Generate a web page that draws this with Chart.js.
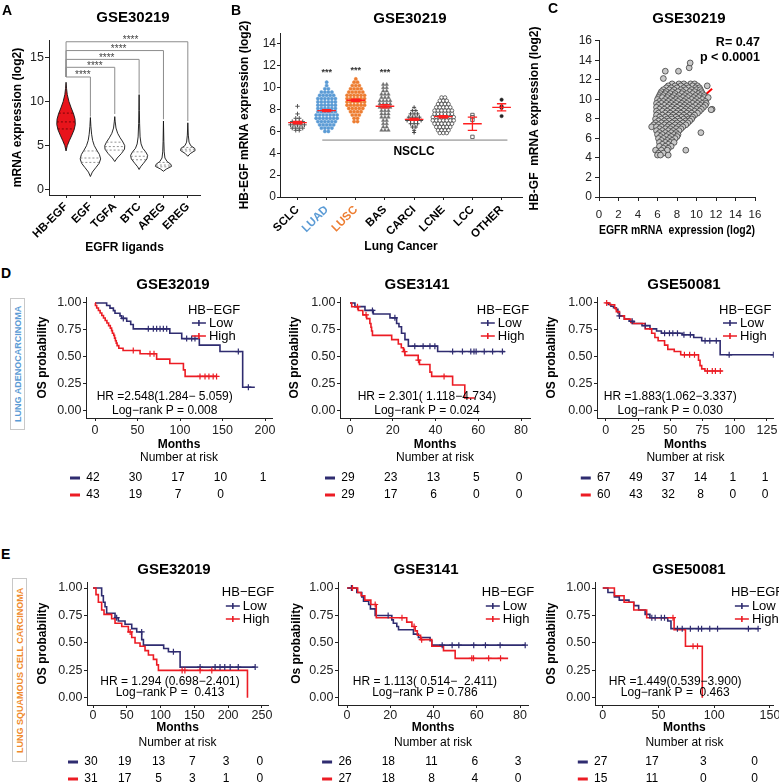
<!DOCTYPE html>
<html>
<head>
<meta charset="utf-8">
<title>HB-EGF expression and survival</title>
<script src="https://cdn.jsdelivr.net/npm/chart.js@4.4.1/dist/chart.umd.min.js"></script>
<style>
  body { margin: 0; background: #fff; font-family: 'Liberation Sans', Arial, sans-serif; }
  #page { position: relative; width: 779px; height: 784px; overflow: hidden; background: #fff; }
  canvas { position: absolute; }
  .lbl { position: absolute; font-weight: bold; font-size: 14px; line-height: 14px; }
  .ttl { position: absolute; font-weight: bold; font-size: 15px; transform: translate(-50%, -50%); white-space: nowrap; }
  .side { position: absolute; box-sizing: border-box; border: 1px solid #c8c8c8; display: flex; align-items: center;
          justify-content: center; writing-mode: vertical-rl; transform: rotate(180deg); font-size: 9px; font-weight: bold; white-space: nowrap; }
  .stat { position: absolute; right: 19px; font-weight: bold; font-size: 12.5px; text-align: right; line-height: 15px; }
</style>
</head>
<body>
<div id="page">
  <canvas id="cA" width="232" height="262" style="left:0;top:0"></canvas>
  <canvas id="cB" width="295" height="262" style="left:232px;top:0"></canvas>
  <canvas id="cC" width="252" height="245" style="left:527px;top:0"></canvas>
  <canvas id="cD1" width="250" height="243" style="left:30px;top:262px"></canvas>
  <canvas id="cD2" width="255" height="243" style="left:285px;top:262px"></canvas>
  <canvas id="cD3" width="239" height="243" style="left:540px;top:262px"></canvas>
  <canvas id="cE1" width="250" height="239" style="left:30px;top:545px"></canvas>
  <canvas id="cE2" width="255" height="239" style="left:285px;top:545px"></canvas>
  <canvas id="cE3" width="239" height="239" style="left:540px;top:545px"></canvas>

  <div class="lbl" style="left:2px;top:3px">A</div>
  <div class="lbl" style="left:231px;top:3px">B</div>
  <div class="lbl" style="left:548px;top:1px">C</div>
  <div class="lbl" style="left:1px;top:266px">D</div>
  <div class="lbl" style="left:1px;top:547px">E</div>

  <div class="ttl" style="left:133px;top:16px">GSE30219</div>
  <div class="ttl" style="left:410px;top:17px">GSE30219</div>
  <div class="ttl" style="left:689px;top:17px">GSE30219</div>
  <div class="ttl" style="left:173px;top:283px">GSE32019</div>
  <div class="ttl" style="left:417px;top:283px">GSE3141</div>
  <div class="ttl" style="left:684px;top:283px">GSE50081</div>
  <div class="ttl" style="left:174px;top:568px">GSE32019</div>
  <div class="ttl" style="left:426px;top:568px">GSE3141</div>
  <div class="ttl" style="left:689px;top:568px">GSE50081</div>

  <div class="stat" style="top:35px">R= 0.47<br>p &lt; 0.0001</div>

  <div class="side" style="left:10px;top:298px;width:15px;height:132px;color:#5b9bd5">LUNG ADENOCARCINOMA</div>
  <div class="side" style="left:12px;top:578px;width:15px;height:184px;color:#f08a2c">LUNG SQUAMOUS CELL CARCINOMA</div>
</div>

<script>
// ---------- Panel A: EGFR ligand expression (violins) ----------
const ligands = ['HB-EGF', 'EGF', 'TGFA', 'BTC', 'AREG', 'EREG'];
// [log2 value, half width in category units]
const violinHBEGF = [[4.4,0],[5.0,0.05],[5.6,0.14],[6.2,0.24],[6.8,0.33],[7.4,0.38],[8.0,0.37],[8.6,0.31],[9.3,0.21],[10.0,0.12],[10.8,0.05],[11.5,0.02],[12.2,0]];
const violinEGF   = [[1.5,0],[2.0,0.08],[2.5,0.22],[3.0,0.36],[3.5,0.42],[4.0,0.37],[4.5,0.26],[5.0,0.16],[5.6,0.09],[6.3,0.05],[7.2,0.02],[8.2,0]];
const violinTGFA  = [[3.2,0],[3.6,0.1],[4.1,0.27],[4.6,0.4],[5.0,0.41],[5.4,0.34],[5.9,0.22],[6.4,0.12],[7.0,0.05],[7.7,0.02],[8.3,0]];
const violinBTC   = [[2.3,0],[2.6,0.06],[3.0,0.18],[3.5,0.32],[3.9,0.35],[4.3,0.27],[4.7,0.15],[5.2,0.08],[6.0,0.04],[7.5,0.02],[9.0,0.01],[10.8,0]];
const violinAREG  = [[2.1,0],[2.35,0.12],[2.65,0.33],[2.9,0.3],[3.2,0.15],[3.6,0.06],[4.3,0.03],[5.5,0.015],[7.8,0]];
const violinEREG  = [[3.8,0],[4.1,0.1],[4.45,0.3],[4.7,0.28],[5.0,0.12],[5.4,0.05],[6.2,0.02],[7.6,0]];
const violinQuartiles = [[6.9,7.7,8.7],[3.1,3.6,4.4],[4.5,4.9,5.4],[3.4,3.8,4.3],[2.6,2.8,3.1],[4.4,4.6,4.8]];
const sigTops = [12.8, 13.9, 14.8, 15.8, 16.8];     // bracket heights, HB-EGF vs EGF..EREG
const sigLegEnds = [8.3, 8.6, 10.9, 8.0, 7.8];
const sigLabels = ['****', '****', '****', '****', '****'];

// ---------- Panel B: HB-EGF by lung cancer type ----------
const cancerTypes = ['SCLC', 'LUAD', 'LUSC', 'BAS', 'CARCI', 'LCNE', 'LCC', 'OTHER'];
// [log2 value, number of samples at that level]
const sclcBins  = [[8.3,1],[7.6,1],[7.2,2],[6.9,4],[6.6,5],[6.3,4],[6.1,2]];
const luadBins  = [[10.5,1],[10.2,1],[9.9,2],[9.6,4],[9.3,5],[9.0,6],[8.7,6],[8.4,6],[8.1,6],[7.8,6],[7.5,7],[7.2,7],[6.9,6],[6.6,5],[6.3,4],[6.0,2]];
const luscBins  = [[10.8,1],[10.5,2],[10.2,3],[9.9,4],[9.6,5],[9.3,6],[9.0,6],[8.7,6],[8.4,6],[8.1,5],[7.8,4],[7.5,3],[7.2,2],[6.9,2]];
const basBins   = [[10.3,2],[10.0,2],[9.7,2],[9.4,3],[9.1,3],[8.8,4],[8.5,4],[8.2,4],[7.9,3],[7.6,3],[7.3,3],[7.0,2],[6.7,2],[6.4,2],[6.1,3]];
const carciBins = [[8.2,1],[7.9,2],[7.6,3],[7.3,4],[7.0,5],[6.7,3],[6.4,2],[6.1,1],[5.9,1]];
const lcneBins  = [[9.1,2],[8.8,3],[8.5,4],[8.2,5],[7.9,6],[7.6,6],[7.3,7],[7.0,7],[6.7,6],[6.4,5],[6.1,4],[5.85,3]];
const lccBins   = [[7.5,1],[7.3,1],[7.05,1],[5.5,1]];
const otherBins = [[8.9,1],[8.3,1],[8.15,1],[7.4,1]];
const typeMeans = [6.8, 7.9, 8.85, 8.3, 7.1, 7.35, 6.7, 8.2];
const typeSEM   = [0.12, 0.1, 0.1, 0.15, 0.1, 0.1, 0.6, 0.33];
const sigTypes  = [1, 2, 3];
const sigTypeLevels = [11.45, 11.6, 11.45];
const nsclcSpan = [0.85, 7.2];
const nsclcLevel = 5.2;

// ---------- Panel C: HB-EGF vs EGFR ----------
// [HB-EGF value, EGFR values on that row]
const egfrRows = [
  [11.6, [7.5, 8.2, 8.7, 9.4, 9.8]],
  [11.4, [7.1, 7.8, 8.4, 9.0, 9.6, 10.1, 11.1]],
  [11.2, [6.9, 7.4, 8.0, 8.7, 9.2, 9.9, 10.3]],
  [11.0, [6.6, 7.2, 7.7, 8.4, 8.9, 9.5, 10.0, 10.4]],
  [10.8, [6.4, 6.9, 7.5, 8.1, 8.6, 9.3, 9.8, 10.5]],
  [10.6, [6.3, 6.8, 7.3, 7.8, 8.5, 9.0, 9.6, 10.2, 10.6]],
  [10.4, [6.2, 6.6, 7.1, 7.7, 8.2, 8.8, 9.3, 9.9, 10.4, 10.8]],
  [10.2, [6.1, 6.5, 7.0, 7.5, 8.0, 8.6, 9.1, 9.7, 10.2, 10.8, 11.2]],
  [10.0, [6.0, 6.8, 7.3, 7.9, 8.3, 8.9, 9.5, 10.0, 10.6]],
  [9.8, [6.2, 6.6, 7.1, 7.6, 8.1, 8.7, 9.2, 9.8, 10.3, 10.9]],
  [9.6, [5.9, 6.4, 6.9, 7.4, 7.9, 8.5, 9.0, 9.6, 10.1, 10.6, 11.0]],
  [9.4, [6.1, 6.7, 7.2, 7.7, 8.3, 8.8, 9.3, 9.9, 10.4, 10.9]],
  [9.2, [5.9, 6.4, 7.0, 7.5, 8.0, 8.6, 9.1, 9.6, 10.2, 10.7]],
  [9.0, [6.2, 6.7, 7.3, 7.8, 8.4, 8.9, 9.4, 10.0, 10.5, 11.6]],
  [8.8, [5.9, 6.5, 7.0, 7.6, 8.1, 8.7, 9.2, 9.8, 10.3]],
  [8.6, [6.1, 6.8, 7.3, 7.9, 8.4, 9.0, 9.5, 10.1]],
  [8.4, [5.9, 6.5, 7.1, 7.6, 8.2, 8.7, 9.3, 9.8]],
  [8.2, [6.2, 6.8, 7.4, 7.9, 8.5, 9.0, 9.6]],
  [8.0, [5.8, 6.4, 7.0, 7.5, 8.1, 8.7, 9.2, 9.5]],
  [7.8, [6.1, 6.7, 7.2, 7.8, 8.3, 8.9, 9.3]],
  [7.6, [5.8, 6.4, 6.9, 7.5, 8.0, 8.6, 9.1]],
  [7.4, [5.6, 6.1, 6.7, 7.2, 7.8, 8.3, 8.9]],
  [7.2, [5.4, 5.9, 6.4, 7.0, 7.5, 8.1, 8.6]],
  [7.0, [6.2, 6.8, 7.3, 7.9, 8.4]],
  [6.8, [5.9, 6.5, 7.1, 7.6, 8.2]],
  [6.6, [6.2, 6.8, 7.4, 7.9, 10.45]],
  [6.4, [6.0, 6.5, 7.1, 7.7, 8.1]],
  [6.2, [6.3, 6.9, 7.4, 8.0]],
  [6.0, [6.1, 6.6, 7.2, 7.8]],
  [5.8, [6.4, 7.0, 7.5]],
  [5.6, [6.2, 6.8, 7.3, 7.7]],
  [5.4, [6.5, 7.1]],
  [5.2, [6.2, 6.8, 7.4]],
  [5.0, [6.6, 7.1]],
  [4.8, [5.8, 6.4, 7.0, 8.9]],
  [4.5, [6.1, 6.6]],
  [4.3, [6.0, 6.3, 7.1]]
];
const egfrOutliers = [[6.6, 12.15], [6.8, 12.9], [8.15, 12.9], [9.25, 13.25], [9.35, 13.75], [11.5, 8.95]];
const egfrFit = [[6.0, 6.1], [11.6, 11.1]];

// ---------- Panels D/E: Kaplan-Meier (months, survival) ----------
const d1LowT = [0, 13.7, 17.6, 21.6, 23.5, 29.4, 31.4, 37.3, 42, 45, 88, 102, 122.7, 147, 173.7, 188];
const d1LowS = [1, 0.976, 0.952, 0.929, 0.905, 0.88, 0.857, 0.83, 0.8, 0.76, 0.72, 0.67, 0.61, 0.55, 0.22, 0.22];
const d1LowC = [33.3, 62.7, 68.6, 72.5, 76.5, 80.4, 84.3, 107.8, 113.7, 117.6, 168.6, 180.4];
const d1HighT = [0, 0.5, 2, 4, 6, 8, 10, 12, 14, 16, 18, 19.5, 20.5, 22, 23, 24, 25, 26, 28, 33, 53, 72.5, 88, 104, 106, 143];
const d1HighS = [1, 0.977, 0.953, 0.93, 0.907, 0.884, 0.86, 0.837, 0.814, 0.79, 0.767, 0.744, 0.72, 0.7, 0.674, 0.65, 0.628, 0.605, 0.58, 0.56, 0.53, 0.48, 0.44, 0.38, 0.32, 0.32];
const d1HighC = [45, 64.7, 69.4, 123.5, 129.4, 134, 139, 143];
const d1Ticks = [0, 50, 100, 150, 200];
const d1RiskLow = [42, 30, 17, 10, 1];
const d1RiskHigh = [43, 19, 7, 0];

const d2LowT = [0, 2.3, 7, 10.9, 18.7, 21.8, 22.9, 24.1, 25.7, 27.3, 41, 72.4];
const d2LowS = [1, 0.966, 0.931, 0.897, 0.862, 0.81, 0.78, 0.72, 0.66, 0.6, 0.55, 0.55];
const d2LowC = [10.5, 21, 30.3, 34.2, 37.4, 39.7, 48, 52.6, 56.5, 58, 59, 62.8, 66.7, 71.3];
const d2HighT = [0, 0.8, 3.9, 6, 7.8, 9.3, 9.8, 10.1, 10.5, 19.5, 22.6, 24, 25, 25.7, 31.9, 32.5, 37.4, 38.2, 48, 53.7, 58.4];
const d2HighS = [1, 0.965, 0.93, 0.89, 0.855, 0.81, 0.775, 0.74, 0.7, 0.66, 0.62, 0.585, 0.55, 0.515, 0.47, 0.43, 0.36, 0.32, 0.24, 0.12, 0.12];
const d2HighC = [3.5, 7.5, 25.5, 32, 44];
const d2Ticks = [0, 20, 40, 60, 80];
const d2RiskLow = [29, 23, 13, 5, 0];
const d2RiskHigh = [29, 17, 6, 0, 0];

const d3LowT = [0, 2, 4, 6, 8.2, 9.4, 10.6, 14.4, 18.1, 21.8, 28.1, 34.3, 39.4, 43.1, 59.4, 68.2, 74.4, 88.7, 130];
const d3LowS = [1, 0.985, 0.97, 0.955, 0.94, 0.91, 0.88, 0.85, 0.83, 0.81, 0.79, 0.76, 0.74, 0.72, 0.705, 0.68, 0.65, 0.52, 0.52];
const d3LowC = [10.6, 20.5, 30.6, 45.6, 49.4, 52, 55.6, 60.6, 65.6, 77, 80.7, 85.7, 95.7, 130];
const d3HighT = [0, 3.2, 6.9, 8.2, 10.6, 14.4, 19.4, 20.6, 30.6, 35.6, 38.1, 40.6, 45.6, 48.1, 53.1, 58.1, 71.9, 73.1, 74.4, 76.9, 90.7];
const d3HighS = [1, 0.983, 0.95, 0.92, 0.88, 0.85, 0.82, 0.81, 0.76, 0.72, 0.68, 0.65, 0.61, 0.57, 0.55, 0.52, 0.47, 0.42, 0.39, 0.37, 0.37];
const d3HighC = [0.7, 61, 65, 68.8, 78.8, 82.6, 85, 88.8];
const d3Ticks = [0, 25, 50, 75, 100, 125];
const d3RiskLow = [67, 49, 37, 14, 1, 1];
const d3RiskHigh = [60, 43, 32, 8, 0, 0];

const e1LowT = [0, 12.8, 15.3, 17.8, 20.2, 32.6, 37.5, 47.4, 57.3, 64.7, 72.1, 74.6, 104.6, 111.6, 128.9, 240];
const e1LowS = [1, 0.93, 0.87, 0.83, 0.77, 0.73, 0.7, 0.67, 0.63, 0.6, 0.53, 0.48, 0.45, 0.42, 0.28, 0.28];
const e1LowC = [35, 72, 119, 158.5, 180.7, 188, 195, 203, 215, 240];
const e1HighT = [0, 4.4, 7.9, 12.8, 16.3, 27.6, 32.6, 42.5, 52.3, 57.3, 62.2, 69.6, 77, 82, 89.4, 94.3, 96.8, 228.6];
const e1HighS = [1, 0.94, 0.87, 0.8, 0.76, 0.72, 0.68, 0.65, 0.6, 0.55, 0.5, 0.47, 0.43, 0.39, 0.35, 0.3, 0.25, 0];
const e1HighC = [55, 131.9, 136, 158.5, 175.8];
const e1Ticks = [0, 50, 100, 150, 200, 250];
const e1RiskLow = [30, 19, 13, 7, 3, 0];
const e1RiskHigh = [31, 17, 5, 3, 1, 0];

const e2LowT = [0, 4.5, 6.8, 7.6, 10, 10.8, 13, 20.7, 21.4, 23, 23.8, 30.7, 33, 38.4, 39.2, 82.4];
const e2LowS = [1, 0.96, 0.92, 0.88, 0.85, 0.81, 0.75, 0.71, 0.68, 0.65, 0.62, 0.58, 0.55, 0.52, 0.48, 0.48];
const e2LowC = [2, 19, 44, 48.6, 51.7, 58.6, 64, 70.8, 82.4];
const e2HighT = [0, 4.9, 6.5, 8.2, 11, 13.5, 27.6, 30, 31.5, 32.5, 34, 39.2, 44.6, 50, 74.5];
const e2HighS = [1, 0.96, 0.93, 0.89, 0.85, 0.73, 0.69, 0.65, 0.61, 0.57, 0.53, 0.47, 0.43, 0.36, 0.36];
const e2HighC = [2.5, 13, 25.4, 31, 34.5, 57.7, 58.5, 65.5, 71];
const e2Ticks = [0, 20, 40, 60, 80];
const e2RiskLow = [26, 18, 11, 6, 3];
const e2RiskHigh = [27, 18, 8, 4, 0];

const e3LowT = [0, 4.6, 10.4, 14.8, 23.5, 27.8, 32.2, 38, 42.3, 58.3, 61.2, 139.4];
const e3LowS = [1, 0.96, 0.92, 0.89, 0.87, 0.84, 0.8, 0.76, 0.73, 0.7, 0.63, 0.63];
const e3LowC = [44, 47, 52.5, 55.4, 67, 71.3, 78.6, 85.8, 88.7, 96, 103, 130.7, 139.4];
const e3HighT = [0, 10.4, 19.1, 27.8, 39.4, 64, 74.2, 89.3];
const e3HighS = [1, 0.93, 0.87, 0.8, 0.73, 0.62, 0.47, 0];
const e3HighC = [63, 81, 85];
const e3Ticks = [0, 50, 100, 150];
const e3RiskLow = [27, 17, 3, 0];
const e3RiskHigh = [15, 11, 0, 0];

// ---------- helpers ----------
const FONT = "'Liberation Sans', Arial, sans-serif";
const NAVY = '#2f2c70';
const RED = '#ec1c24';

function axis(o) {
  return {
    type: 'linear', min: o.min, max: o.max,
    border: { display: true, color: '#222', width: 1 },
    grid: { drawOnChartArea: false, drawTicks: true, tickLength: o.tl ?? 3, color: '#222', lineWidth: 1 },
    ticks: {
      autoSkip: false, padding: o.pad ?? 2, color: o.tc || '#222',
      maxRotation: o.rot || 0, minRotation: o.rot || 0,
      font: { family: FONT, size: o.fs || 12, weight: o.fw || 'normal' },
      callback: o.cb || (v => String(v))
    },
    afterBuildTicks: s => { s.ticks = o.ticks.map(v => ({ value: v })); },
    afterFit: s => {
      if (o.w != null) s.width = o.w;
      if (o.h != null) s.height = o.h;
      s.paddingLeft = s.paddingRight = s.paddingTop = s.paddingBottom = 0;
    },
    title: { display: !!o.title, text: o.title || '', color: '#000', padding: o.tp || 0,
             font: { family: FONT, size: 12, weight: 'bold' } }
  };
}

function baseOpts(pad, scales, extra) {
  return {
    responsive: false, animation: false, events: [],
    layout: { padding: pad },
    plugins: Object.assign({ legend: { display: false }, tooltip: { enabled: false } }, extra || {}),
    scales
  };
}

function halfWidthAt(prof, v) {
  for (let k = 1; k < prof.length; k++) {
    if (v <= prof[k][0]) {
      const [a, wa] = prof[k - 1], [b, wb] = prof[k];
      return wa + (wb - wa) * (v - a) / (b - a);
    }
  }
  return 0;
}

function survAt(t, s, c) {
  let v = s[0];
  for (let i = 0; i < t.length; i++) if (t[i] <= c) v = s[i];
  return v;
}

// ---------- Panel A ----------
const violinShapes = [violinHBEGF, violinEGF, violinTGFA, violinBTC, violinAREG, violinEREG];
const violinFills = ['#e8141b', '#fff', '#fff', '#fff', '#fff', '#fff'];

const violinPlugin = {
  id: 'violins',
  beforeDatasetsDraw(chart) {
    const { ctx, scales: { x, y } } = chart;
    const X = v => x.getPixelForValue(v), Y = v => y.getPixelForValue(v);
    ctx.save();
    ctx.strokeStyle = '#8c8c8c';
    ctx.lineWidth = 1;
    sigTops.forEach((top, k) => {
      ctx.beginPath();
      ctx.moveTo(X(0), Y(sigTops[0]));
      ctx.lineTo(X(0), Y(top));
      ctx.lineTo(X(k + 1), Y(top));
      ctx.lineTo(X(k + 1), Y(sigLegEnds[k]));
      ctx.stroke();
    });
    ctx.fillStyle = '#444';
    ctx.font = `10px ${FONT}`;
    ctx.textAlign = 'center';
    ctx.textBaseline = 'alphabetic';
    // star labels sit a little right of the bracket middle
    sigTops.forEach((top, k) => ctx.fillText(sigLabels[k], X((k + 1) * 0.49 + 0.2), Y(top) + 1.5));

    violinShapes.forEach((prof, i) => {
      ctx.beginPath();
      prof.forEach(([v, w], k) => k ? ctx.lineTo(X(i + w), Y(v)) : ctx.moveTo(X(i + w), Y(v)));
      for (let k = prof.length - 1; k >= 0; k--) ctx.lineTo(X(i - prof[k][1]), Y(prof[k][0]));
      ctx.closePath();
      ctx.fillStyle = violinFills[i];
      ctx.fill();
      ctx.strokeStyle = '#111';
      ctx.lineWidth = 0.9;
      ctx.stroke();
      ctx.setLineDash([2, 2]);
      ctx.strokeStyle = i === 0 ? '#5a0000' : '#777';
      ctx.lineWidth = 0.8;
      violinQuartiles[i].forEach(q => {
        const w = halfWidthAt(prof, q);
        ctx.beginPath();
        ctx.moveTo(X(i - w), Y(q));
        ctx.lineTo(X(i + w), Y(q));
        ctx.stroke();
      });
      ctx.setLineDash([]);
    });
    ctx.restore();
  }
};

new Chart(document.getElementById('cA'), {
  type: 'scatter',
  data: { datasets: [{ data: violinQuartiles.map((q, i) => ({ x: i, y: q[1] })), pointRadius: 0 }] },
  options: baseOpts({ top: 40, right: 32, bottom: 0, left: 0 }, {
    x: axis({ min: -0.7, max: 5.5, ticks: [0, 1, 2, 3, 4, 5], cb: v => ligands[v], rot: 45, fs: 11.5, fw: 'bold',
              tc: '#000', pad: 2, h: 67, title: 'EGFR ligands', tp: { bottom: 6.8 } }),
    y: axis({ min: -0.6, max: 17, ticks: [0, 5, 10, 15], fs: 12.5, w: 49, tl: 4, pad: 1,
              title: 'mRNA expression (log2)', tp: { top: 10.8 } })
  }),
  plugins: [violinPlugin]
});

// ---------- Panel B ----------
const typeBins = [sclcBins, luadBins, luscBins, basBins, carciBins, lcneBins, lccBins, otherBins];
const typeLabelColors = ['#000', '#5b9bd5', '#ed7d31', '#000', '#000', '#000', '#000', '#000'];
const typeStyles = [
  { pointStyle: 'cross', pointRadius: 2.2, borderColor: '#555', backgroundColor: '#555', borderWidth: 1 },
  { pointStyle: 'circle', pointRadius: 1.6, borderColor: '#5b9bd5', backgroundColor: '#5b9bd5', borderWidth: 0.5 },
  { pointStyle: 'circle', pointRadius: 1.6, borderColor: '#ed7d31', backgroundColor: '#ed7d31', borderWidth: 0.5 },
  { pointStyle: 'triangle', pointRadius: 2, borderColor: '#6e6e6e', backgroundColor: '#6e6e6e', borderWidth: 0.5 },
  { pointStyle: 'cross', pointRadius: 2, borderColor: '#444', backgroundColor: '#444', borderWidth: 1 },
  { pointStyle: 'circle', pointRadius: 1.8, borderColor: '#333', backgroundColor: '#fff', borderWidth: 0.7 },
  { pointStyle: 'rect', pointRadius: 2.4, borderColor: '#555', backgroundColor: '#fff', borderWidth: 0.9 },
  { pointStyle: 'circle', pointRadius: 1.7, borderColor: '#222', backgroundColor: '#222', borderWidth: 0.5 }
];

const bDecor = {
  id: 'bDecor',
  beforeDatasetsDraw(chart) {
    const { ctx, scales: { x, y } } = chart;
    ctx.save();
    ctx.strokeStyle = '#b5b5b5';
    ctx.lineWidth = 1.6;
    ctx.beginPath();
    ctx.moveTo(x.getPixelForValue(nsclcSpan[0]), y.getPixelForValue(nsclcLevel));
    ctx.lineTo(x.getPixelForValue(nsclcSpan[1]), y.getPixelForValue(nsclcLevel));
    ctx.stroke();
    ctx.fillStyle = '#000';
    ctx.font = `bold 12px ${FONT}`;
    ctx.textAlign = 'center';
    ctx.textBaseline = 'middle';
    ctx.fillText('NSCLC', x.getPixelForValue(4.0), y.getPixelForValue(4.1));
    ctx.restore();
  },
  afterDatasetsDraw(chart) {
    const { ctx, scales: { x, y } } = chart;
    const X = v => x.getPixelForValue(v), Y = v => y.getPixelForValue(v);
    ctx.save();
    ctx.strokeStyle = '#ff1f1f';
    ctx.lineWidth = 1.3;
    typeMeans.forEach((m, i) => {
      const e = typeSEM[i];
      ctx.beginPath();
      ctx.moveTo(X(i - 0.32), Y(m)); ctx.lineTo(X(i + 0.32), Y(m));
      ctx.moveTo(X(i), Y(m - e)); ctx.lineTo(X(i), Y(m + e));
      ctx.moveTo(X(i - 0.16), Y(m - e)); ctx.lineTo(X(i + 0.16), Y(m - e));
      ctx.moveTo(X(i - 0.16), Y(m + e)); ctx.lineTo(X(i + 0.16), Y(m + e));
      ctx.stroke();
    });
    ctx.fillStyle = '#333';
    ctx.font = `bold 9px ${FONT}`;
    ctx.textAlign = 'center';
    ctx.textBaseline = 'alphabetic';
    sigTypes.forEach((c, k) => ctx.fillText('***', X(c), Y(sigTypeLevels[k]) + 3));
    ctx.restore();
  }
};

new Chart(document.getElementById('cB'), {
  type: 'scatter',
  data: {
    datasets: typeBins.map((bins, i) => Object.assign({
      data: bins.flatMap(([v, n]) => Array.from({ length: n }, (_, k) => ({ x: i + (k - (n - 1) / 2) * 0.12, y: v })))
    }, typeStyles[i]))
  },
  options: baseOpts({ top: 33, right: 4, bottom: 0, left: 0 }, {
    x: axis({ min: -0.6, max: 7.7, ticks: [0, 1, 2, 3, 4, 5, 6, 7], cb: v => cancerTypes[v], rot: 45, fs: 11.5, fw: 'bold',
              tc: c => typeLabelColors[c.index] || '#000', pad: 3, h: 65, title: 'Lung Cancer', tp: { bottom: 7.8 } }),
    y: axis({ min: 0, max: 15, ticks: [0, 2, 4, 6, 8, 10, 12, 14], fs: 12, w: 48, tl: 3, pad: 1,
              title: 'HB-EGF mRNA expression (log2)', tp: { top: 5.8 } })
  }),
  plugins: [bDecor]
});

// ---------- Panel C ----------
const egfrPoints = egfrRows.flatMap(([hv, xs]) => xs.map(ev => ({ x: ev, y: hv })))
  .concat(egfrOutliers.map(([ev, hv]) => ({ x: ev, y: hv })));

new Chart(document.getElementById('cC'), {
  type: 'scatter',
  data: {
    datasets: [
      { data: egfrPoints, pointRadius: 2.9, backgroundColor: '#c9c9c9', borderColor: '#3c3c3c', borderWidth: 0.8, order: 0 },
      { data: egfrFit.map(([a, b]) => ({ x: a, y: b })), showLine: true, borderColor: '#ff0000', borderWidth: 2, pointRadius: 0, order: 1 }
    ]
  },
  options: baseOpts({ top: 40, right: 24, bottom: 0, left: 0 }, {
    x: axis({ min: 0, max: 16, ticks: [0, 2, 4, 6, 8, 10, 12, 14, 16], fs: 11.5, tl: 4, pad: 7, h: 48,
              title: 'EGFR mRNA  expression (log2)', tp: { bottom: 6.8 } }),
    y: axis({ min: 0, max: 16.1, ticks: [0, 2, 4, 6, 8, 10, 12, 14, 16], fs: 12, tl: 4, pad: 3, w: 72,
              title: 'HB-GF  mRNA expression (log2)', tp: { top: 0.8 } })
  })
});

// ---------- Panels D/E ----------
const kmPlugin = {
  id: 'kmDecor',
  afterDraw(chart, args, o) {
    const { ctx, chartArea: a, scales: { x, y } } = chart;
    ctx.save();
    ctx.textBaseline = 'middle';
    // legend
    const lx = a.left + o.legendFrac * (a.right - a.left);
    ctx.font = `13px ${FONT}`;
    ctx.textAlign = 'left';
    ctx.fillStyle = '#000';
    ctx.fillText('HB\u2212EGF', lx, a.top + o.legY[0]);
    [[NAVY, 'Low', o.legY[1]], [RED, 'High', o.legY[2]]].forEach(([c, lab, dy]) => {
      const yy = a.top + dy;
      ctx.strokeStyle = c;
      ctx.lineWidth = 1.6;
      ctx.beginPath();
      ctx.moveTo(lx + 4, yy); ctx.lineTo(lx + 18, yy);
      ctx.moveTo(lx + 11, yy - 3); ctx.lineTo(lx + 11, yy + 3);
      ctx.stroke();
      ctx.fillStyle = '#000';
      ctx.fillText(lab, lx + 21, yy);
    });
    // hazard ratio and log-rank text
    ctx.font = `12px ${FONT}`;
    ctx.textAlign = 'center';
    ctx.fillText(o.hr, x.getPixelForValue(o.hrX), y.getPixelForValue(o.hrY[0]));
    ctx.fillText(o.lr, x.getPixelForValue(o.hrX), y.getPixelForValue(o.hrY[1]));
    // risk table
    ctx.fillText('Number at risk', (a.left + a.right) / 2, a.bottom + o.riskY[0]);
    const x0 = x.getPixelForValue(0);
    const rx = t => x0 + (x.getPixelForValue(t) - x0) * o.riskF - 2;
    [[NAVY, o.riskLow, o.riskY[1]], [RED, o.riskHigh, o.riskY[2]]].forEach(([c, row, dy]) => {
      const yy = a.bottom + dy;
      ctx.fillStyle = c;
      ctx.fillRect(rx(0) - 23, yy - 1.5, 10, 3);
      ctx.fillStyle = '#000';
      row.forEach((n, i) => ctx.fillText(String(n), rx(o.ticks[i]), yy));
    });
    ctx.restore();
  }
};

function kmChart(id, d, p) {
  const line = (t, s, c) => ({ data: t.map((v, i) => ({ x: v, y: s[i] })), showLine: true, stepped: true,
                               borderColor: c, borderWidth: 1.6, pointRadius: 0, order: 1 });
  const cens = (ct, t, s, c) => ({ data: ct.map(v => ({ x: v, y: survAt(t, s, v) })), showLine: false,
                                   pointStyle: 'cross', pointRadius: 3, borderColor: c, borderWidth: 1.2, order: 0 });
  const row = p.row === 'D'
    ? { pt: 35, pb: 52, xh: 35, xpad: 2, legY: [13, 26, 39], hrY: [0.135, 0.005], riskY: [40, 60, 77] }
    : { pt: 37, pb: 48, xh: 31, xpad: 0.5, legY: [10, 24, 37], hrY: [0.145, 0.045], riskY: [38, 57, 74] };
  new Chart(document.getElementById(id), {
    type: 'scatter',
    data: { datasets: [
      line(d.highT, d.highS, RED), line(d.lowT, d.lowS, NAVY),
      cens(d.highC, d.highT, d.highS, RED), cens(d.lowC, d.lowT, d.lowS, NAVY)
    ] },
    options: baseOpts({ top: row.pt, right: p.pr, bottom: row.pb, left: 0 }, {
      x: axis({ min: p.xmin, max: p.xmax, ticks: d.ticks, fs: 12.5, tl: 3, pad: row.xpad, h: row.xh,
                title: 'Months', tp: { bottom: 0.8 } }),
      y: axis({ min: -0.065, max: 1.055, ticks: [0, 0.25, 0.5, 0.75, 1], cb: v => v.toFixed(2), fs: 12.5, tl: 3, pad: 1.5,
                w: p.yw, title: p.ytitle || 'OS probability', tp: { top: p.ytp } })
    }, {
      kmDecor: { legendFrac: p.legendFrac, legY: row.legY, hr: p.hr, lr: p.lr, hrX: p.hrX, hrY: row.hrY,
                 riskY: row.riskY, riskF: p.riskF || 1, riskLow: d.riskLow, riskHigh: d.riskHigh, ticks: d.ticks }
    }),
    plugins: [kmPlugin]
  });
}

kmChart('cD1',
  { lowT: d1LowT, lowS: d1LowS, lowC: d1LowC, highT: d1HighT, highS: d1HighS, highC: d1HighC, ticks: d1Ticks, riskLow: d1RiskLow, riskHigh: d1RiskHigh },
  { row: 'D', xmin: -10.6, xmax: 208.2, yw: 56, ytp: 5.8, pr: 8, legendFrac: 0.548, hrX: 82,
    hr: 'HR =2.548(1.284\u2212 5.059)', lr: 'Log\u2212rank P = 0.008' });
kmChart('cD2',
  { lowT: d2LowT, lowS: d2LowS, lowC: d2LowC, highT: d2HighT, highS: d2HighS, highC: d2HighC, ticks: d2Ticks, riskLow: d2RiskLow, riskHigh: d2RiskHigh },
  { row: 'D', xmin: -4.68, xmax: 84.2, yw: 55, ytp: 2.8, pr: 10, legendFrac: 0.72, hrX: 36,
    hr: 'HR = 2.301( 1.118\u22124.734)', lr: 'Log\u2212rank P = 0.024' });
kmChart('cD3',
  { lowT: d3LowT, lowS: d3LowS, lowC: d3LowC, highT: d3HighT, highS: d3HighS, highC: d3HighC, ticks: d3Ticks, riskLow: d3RiskLow, riskHigh: d3RiskHigh },
  { row: 'D', xmin: -6.8, xmax: 130.3, yw: 57, ytp: 4.8, pr: 0, legendFrac: 0.69, hrX: 50,
    hr: 'HR =1.883(1.062\u22123.337)', lr: 'Log\u2212rank P = 0.030' });
kmChart('cE1',
  { lowT: e1LowT, lowS: e1LowS, lowC: e1LowC, highT: e1HighT, highS: e1HighS, highC: e1HighC, ticks: e1Ticks, riskLow: e1RiskLow, riskHigh: e1RiskHigh },
  { row: 'E', xmin: -8.9, xmax: 259, yw: 57, ytp: 5.8, pr: 12, legendFrac: 0.745, hrX: 114,
    hr: 'HR = 1.294 (0.698\u22122.401)', lr: 'Log\u2212rank P =  0.413' });
kmChart('cE2',
  { lowT: e2LowT, lowS: e2LowS, lowC: e2LowC, highT: e2HighT, highS: e2HighS, highC: e2HighC, ticks: e2Ticks, riskLow: e2RiskLow, riskHigh: e2RiskHigh },
  { row: 'E', xmin: -4.2, xmax: 83.7, yw: 53, ytp: 4.8, pr: 12, legendFrac: 0.757, hrX: 36, ytitle: 'Os probability',
    hr: 'HR = 1.113( 0.514\u2212  2.411)', lr: 'Log\u2212rank P = 0.786' });
kmChart('cE3',
  { lowT: e3LowT, lowS: e3LowS, lowC: e3LowC, highT: e3HighT, highS: e3HighS, highC: e3HighC, ticks: e3Ticks, riskLow: e3RiskLow, riskHigh: e3RiskHigh },
  { row: 'E', xmin: -7, xmax: 153.5, yw: 55, ytp: 4.8, pr: 0, legendFrac: 0.76, hrX: 65, riskF: 0.92,
    hr: 'HR =1.449(0.539\u22123.900)', lr: 'Log\u2212rank P =  0.463' });
</script>
</body>
</html>
